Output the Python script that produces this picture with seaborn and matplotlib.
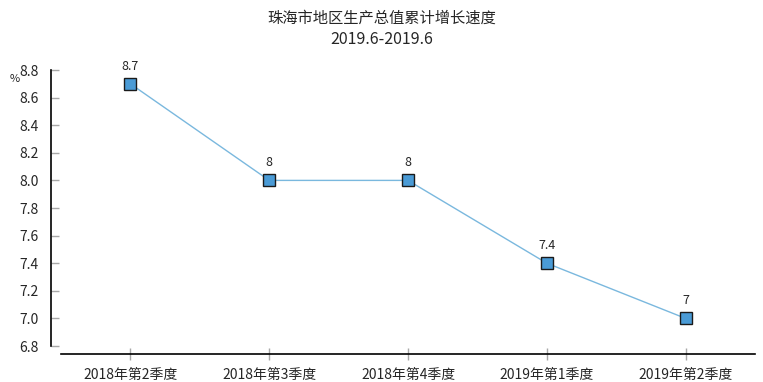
import matplotlib
matplotlib.use("Agg")
import matplotlib.pyplot as plt
import seaborn as sns
import pandas as pd

quarters = ["2018年第2季度", "2018年第3季度", "2018年第4季度", "2019年第1季度", "2019年第2季度"]
growth = [8.7, 8.0, 8.0, 7.4, 7.0]
value_labels = ["8.7", "8", "8", "7.4", "7"]
y_ticks = [6.8, 7.0, 7.2, 7.4, 7.6, 7.8, 8.0, 8.2, 8.4, 8.6, 8.8]

sns.set_style("white")
plt.rcParams["font.family"] = ["Noto Sans CJK SC", "DejaVu Sans"]

df = pd.DataFrame({"季度": quarters, "增速": growth})

fig = plt.figure(figsize=(7.63, 3.82), dpi=100)
ax = fig.add_axes([61 / 763, 36 / 382, 694 / 763, 276 / 382])

sns.lineplot(data=df, x="季度", y="增速", ax=ax, color="#7ab8de", linewidth=1,
             marker="s", markersize=9, markerfacecolor="#4a9bd6",
             markeredgecolor="#1a1a1a", markeredgewidth=1, sort=False)

for i, (v, lab) in enumerate(zip(growth, value_labels)):
    ax.annotate(lab, (i, v), xytext=(0, 8), textcoords="offset points",
                ha="center", va="bottom", fontsize=9)

ax.set_xlim(-0.5, len(quarters) - 0.5)
ax.set_ylim(6.8, 8.8)
ax.set_yticks(y_ticks)
ax.set_yticklabels([f"{t:.1f}" for t in y_ticks], fontsize=9.5)
ax.set_xticks(range(len(quarters)))
ax.set_xticklabels(quarters, fontsize=9.5)
ax.set_xlabel("")
ax.set_ylabel("")

for s in ["top", "right"]:
    ax.spines[s].set_visible(False)
ax.spines["left"].set_position(("outward", 7))
ax.spines["bottom"].set_position(("outward", 6))
for s in ["left", "bottom"]:
    ax.spines[s].set_color("black")
    ax.spines[s].set_linewidth(1.2)

ax.tick_params(axis="y", left=True, direction="in", length=6, width=1, color="#a8a8a8", pad=9)
ax.tick_params(axis="x", bottom=True, direction="inout", length=9, width=1, color="#a8a8a8", pad=5)

fig.text(10 / 763, 1 - 79 / 382, "%", fontsize=8, ha="left", va="center")
fig.text(0.5, 1 - 18 / 382, "珠海市地区生产总值累计增长速度", fontsize=11, ha="center", va="center")
fig.text(0.5, 1 - 40 / 382, "2019.6-2019.6", fontsize=11.5, ha="center", va="center")

fig.savefig("out.png", dpi=100)
